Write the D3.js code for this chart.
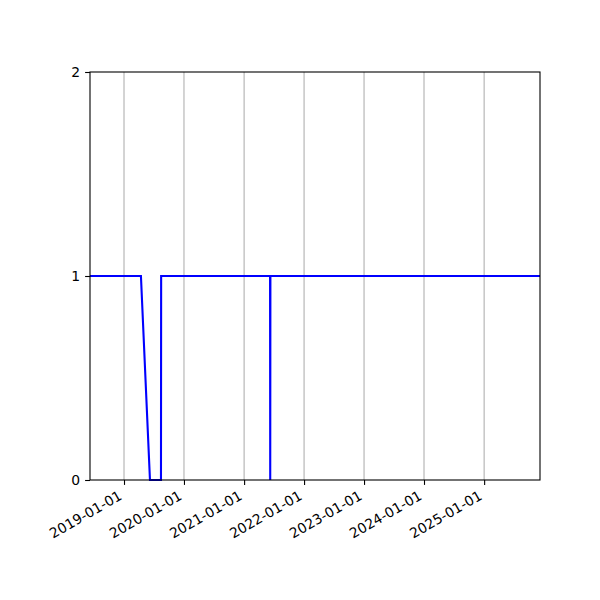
<!DOCTYPE html>
<html>

<head>
    <style>
        body {
            margin: 0;
            background-color: #ffffff;
        }

        svg {
            display: block;
        }

        .tick text {
            font-family: "DejaVu Sans", sans-serif;
            font-size: 13.9px;
            fill: #000000;
        }
    </style>
</head>

<body>
    <div id="chart"></div>

    <script src="https://d3js.org/d3.v7.min.js"></script>

    <script>
        // data
        var dates = ["2018-06-08", "2019-04-14", "2019-06-08", "2019-08-14", "2019-08-15",
            "2021-06-08", "2021-06-09", "2021-06-10", "2025-12-07"];
        var values = [1, 1, 0, 0, 1, 1, 0, 1, 1];
        var yTicks = [0, 1, 2];
        var xTickYears = ["2019-01-01", "2020-01-01", "2021-01-01", "2022-01-01",
            "2023-01-01", "2024-01-01", "2025-01-01"];

        var parse = d3.timeParse("%Y-%m-%d");
        var fmt = d3.timeFormat("%Y-%m-%d");

        var width = 600, height = 600;
        var margin = { top: 72, right: 60, bottom: 120, left: 90 };
        var innerW = width - margin.left - margin.right;
        var innerH = height - margin.top - margin.bottom;

        var points = dates.map(function (d, i) {
            return { date: parse(d), value: values[i] };
        });

        var svg = d3.select("#chart").append("svg")
            .attr("width", width)
            .attr("height", height);

        var g = svg.append("g")
            .attr("transform", "translate(" + margin.left + "," + margin.top + ")");

        var x = d3.scaleTime()
            .domain(d3.extent(points, function (d) { return d.date; }))
            .range([0, innerW]);

        var y = d3.scaleLinear()
            .domain([0, 2])
            .range([innerH, 0]);

        var tickDates = xTickYears.map(parse);

        // vertical grid lines
        g.append("g")
            .selectAll("line")
            .data(tickDates)
            .enter()
            .append("line")
            .attr("x1", function (d) { return x(d); })
            .attr("x2", function (d) { return x(d); })
            .attr("y1", 0)
            .attr("y2", innerH)
            .attr("stroke", "#b0b0b0")
            .attr("stroke-width", 1.1);

        // the line
        var line = d3.line()
            .x(function (d) { return x(d.date); })
            .y(function (d) { return y(d.value); });

        g.append("path")
            .datum(points)
            .attr("d", line)
            .attr("fill", "none")
            .attr("stroke", "#0000ff")
            .attr("stroke-width", 2.1)
            .attr("stroke-linejoin", "miter");

        // x axis
        var xAxis = g.append("g")
            .attr("transform", "translate(0," + innerH + ")")
            .call(d3.axisBottom(x)
                .tickValues(tickDates)
                .tickFormat(fmt)
                .tickSize(4.9)
                .tickSizeOuter(0));

        xAxis.select(".domain").remove();
        xAxis.selectAll(".tick line").attr("stroke", "#000").attr("stroke-width", 1.1);
        xAxis.selectAll(".tick text")
            .attr("y", 0)
            .attr("dy", 0)
            .attr("text-anchor", "end")
            .attr("transform", "translate(-1.5,18.5) rotate(-30)");

        // y axis
        var yAxis = g.append("g")
            .call(d3.axisLeft(y)
                .tickValues(yTicks)
                .tickFormat(d3.format("d"))
                .tickSize(4.9)
                .tickSizeOuter(0)
                .tickPadding(4.9));

        yAxis.select(".domain").remove();
        yAxis.selectAll(".tick line").attr("stroke", "#000").attr("stroke-width", 1.1);

        // axes frame
        g.append("rect")
            .attr("x", 0)
            .attr("y", 0)
            .attr("width", innerW)
            .attr("height", innerH)
            .attr("fill", "none")
            .attr("stroke", "#000")
            .attr("stroke-width", 1.1);
    </script>
</body>

</html>
